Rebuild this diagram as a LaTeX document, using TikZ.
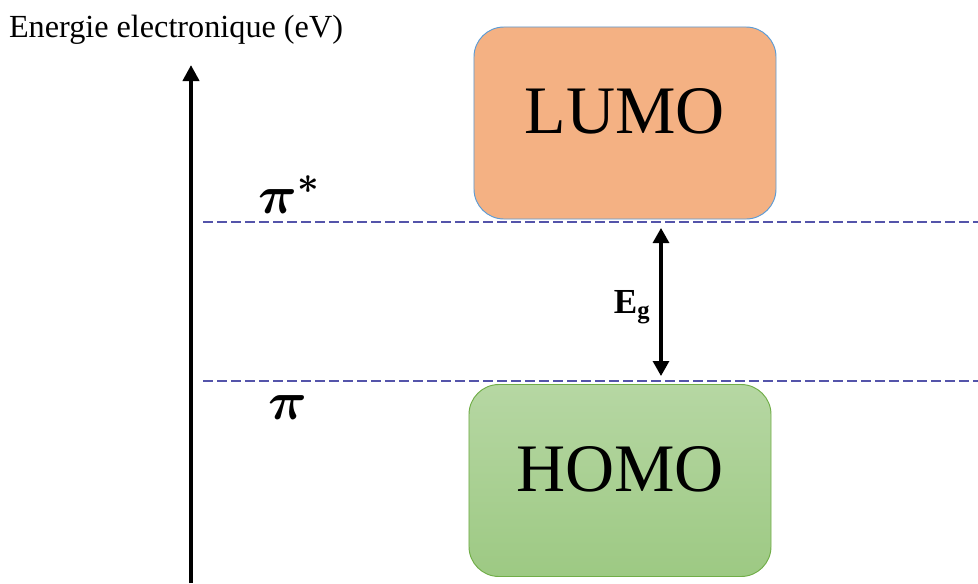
\RequirePackage{fix-cm}
\documentclass[tikz,border=0pt]{standalone}
\usepackage{bm}
\usepackage{fontspec}
\setmainfont{Liberation Serif}
\usetikzlibrary{arrows.meta}

\definecolor{lumofill}{HTML}{F4B183}
\definecolor{lumoline}{HTML}{5B9BD5}
\definecolor{homotop}{HTML}{B6D7A3}
\definecolor{homobot}{HTML}{9DC983}
\definecolor{homoline}{HTML}{70AD47}
\definecolor{levelcol}{RGB}{84,84,170}

\begin{document}
\begin{tikzpicture}[
    x=0.03cm, y=-0.03cm,
    title/.style={font=\fontsize{27.5}{30}\selectfont, anchor=base},
    orbital/.style={rectangle, rounded corners=0.9cm, minimum width=9.06cm, minimum height=5.76cm, line width=0.8pt, text depth=0.72cm, font=\fontsize{58}{62}\selectfont},
    lumo/.style={orbital, draw=lumoline, fill=lumofill},
    homo/.style={orbital, draw=homoline, top color=homotop, bottom color=homobot},
    level/.style={levelcol, line width=2.3pt, dash pattern=on 0.3cm off 0.12cm},
    levellbl/.style={anchor=base, font=\fontsize{46}{50}\selectfont},
    axis/.style={line width=3.4pt, -{Triangle[length=0.48cm, width=0.48cm]}},
    gap/.style={line width=2.6pt, {Triangle[length=0.45cm, width=0.48cm]}-{Triangle[length=0.45cm, width=0.48cm]}}
]
\useasboundingbox (0, 0) rectangle (978, 583);

% Axis
\node[title] (ttl) at (176, 37) {Energie electronique (eV)};
\coordinate (axbot) at (191, 583);
\coordinate (axtop) at (191, 65);
\draw[axis] (axbot) -- (axtop);

% Orbitals
\node[lumo] (lumo) at (625, 123) {LUMO};
\node[homo] (homo) at (620, 480.5) {HOMO};

% Levels
\coordinate (pistarL) at (203, 222);
\coordinate (pistarR) at (978, 222);
\coordinate (piL) at (203, 381);
\coordinate (piR) at (978, 381);
\draw[level] (pistarL) -- (pistarR);
\draw[level] (piL) -- (piR);
\node[levellbl] (pistar) at (289, 213) {$\bm{\pi}^{\bm{*}}$};
\node[levellbl] (pi) at (288, 419) {$\bm{\pi}$};

% Gap
\coordinate (gtop) at (661, 228);
\coordinate (gbot) at (661, 376);
\draw[gap] (gtop) -- (gbot);
\node[font=\fontsize{30}{32}\selectfont] (eg) at (632, 307) {$\mathbf{E_g}$};

\end{tikzpicture}
\end{document}
